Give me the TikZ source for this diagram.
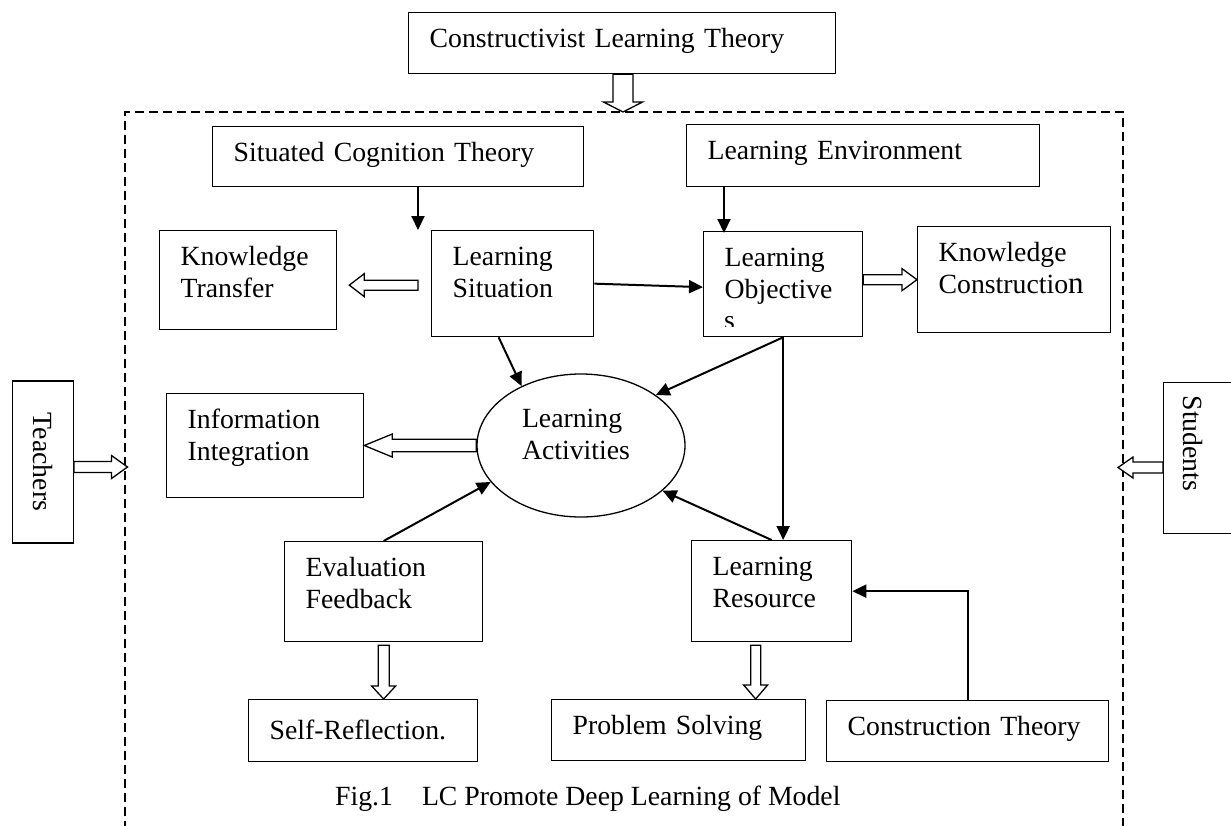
\documentclass[tikz,border=0pt]{standalone}
\usepackage{fontspec}
\setmainfont{Liberation Serif}
\usepackage{xcolor}
\usepackage{tikz}
\usetikzlibrary{arrows.meta,positioning,calc,shapes.geometric}
\definecolor{Ink}{HTML}{000000}

% outlined block arrow: start, tip, half shaft, half head, head length
\newcommand\blockarrow[5]{%
  \draw[hollow] ($(#1)!#3!90:(#2)$) -- ($($(#2)!#5!(#1)$)!#3!-90:(#1)$) -- ($($(#2)!#5!(#1)$)!#4!-90:(#1)$) -- (#2)
    -- ($($(#2)!#5!(#1)$)!#4!90:(#1)$) -- ($($(#2)!#5!(#1)$)!#3!90:(#1)$) -- ($(#1)!#3!-90:(#2)$) -- cycle;}

\begin{document}
\begin{tikzpicture}[x=1pt,y=-1pt,>={Triangle[length=14pt,width=13pt]}]
\tikzset{txt/.style={text=Ink,font=\fontsize{27.75}{32}\selectfont}, box/.style={txt,draw=Ink,line width=1.3pt,anchor=north west,inner xsep=21pt,inner ysep=0pt,align=left,text height=34.5pt}, arrow/.style={->,line width=2pt,Ink}, hollow/.style={draw=Ink,line width=1.3pt,fill=white,line join=miter}, frame/.style={draw=Ink,line width=1.2pt,dash pattern=on 9pt off 5pt}}
\useasboundingbox (0,0) rectangle (1231,825);
\draw[frame] (125,830) |- (1123,112) -- (1123,830);
\node[box,text width=385,text depth=26.5] (clt) at (408,12) {Constructivist Learning Theory};
\node[box,text width=329,text depth=25.5] (sct) at (212,126) {Situated Cognition Theory};
\node[box,text width=311,text depth=27.5] (env) at (686,124) {Learning Environment};
\node[box,text width=135,text depth=64.5] (ktr) at (159,230) {Knowledge\\Transfer};
\node[box,text width=120,text depth=71.5] (sit) at (431,230) {Learning\\Situation};
\node[box,text width=117,text depth=70.5] (obj) at (703,231) {Learning\\Objective};
\node[box,text width=151,text depth=71.5] (kco) at (917,226) {Knowledge\\Constructio{\fontsize{31}{32}\selectfont n}};
\node[ellipse,draw=Ink,line width=1.3pt,minimum width=208,minimum height=143,inner sep=0pt,align=left,text width=118,text height=20,text depth=56,txt] (act) at (581,445.5) {Learning\\Activities};
\node[box,text width=155,text depth=69.5] (inf) at (166,393) {Information\\Integration};
\node[box,text width=156,text depth=65.5] (eva) at (284,541) {Evaluation\\Feedback};
\node[box,text width=118,text depth=66.5] (res) at (691,540) {Learning\\Resource};
\node[box,text width=187,text height=40,text depth=22] (slf) at (248,699) {Self-Reflection.};
\node[box,text width=212,text depth=26.5] (prb) at (551,699) {Problem Solving};
\node[box,text width=240,text depth=26.5] (cth) at (826,700) {Construction Theory};
\node[txt,draw=Ink,line width=1.3pt,rotate=-90,minimum width=162,minimum height=60.6,inner sep=0pt] (tea) at (43,462) {Teachers};
\node[txt,draw=Ink,line width=1.3pt,rotate=-90,anchor=south west,inner xsep=13pt,inner ysep=0pt,align=left,text width=125,text height=57,text depth=20] (stu) at (1163,382) {Students};
\node[txt,anchor=base west,inner sep=0pt] (cap) at (335,805) {Fig.1\hspace{29pt}LC Promote Deep Learning of Model};
% last letter of the objectives box runs past its lower margin
\begin{scope}
\clip (obj.north west) rectangle ($(obj.south east)+(0,-11)$);
\node[txt,anchor=base west,inner sep=0pt] (objs) at ($(obj.north west)+(21,98.5)$) {s};
\end{scope}
\coordinate (ctop) at (623,112);
\coordinate (lf) at (127.5,467);
\coordinate (rf) at (1118,467.5);
\coordinate (sitin) at ($(sit.north west)+(-13,0)$);
\coordinate (objin) at ($(obj.north west)+(21,2)$);
\coordinate (sitout) at ($(sit.west)+(-13,1.5)$);
\coordinate (ktrin) at ($(ktr.east |- sitout)+(12,0)$);
\coordinate (evaout) at ($(eva.south)+(0,3)$);
\coordinate (resout) at ($(res.south)+(-16,3)$);
\blockarrow{clt.south -| ctop}{ctop}{10pt}{19.5pt}{10pt}
\blockarrow{sitout}{ktrin}{5pt}{11.5pt}{15pt}
\blockarrow{obj.east |- kco.west}{kco.west}{5pt}{11pt}{15pt}
\blockarrow{act.west}{inf.east |- act.west}{6.3pt}{11.5pt}{28pt}
\blockarrow{tea.north |- lf}{lf}{5.5pt}{11.5pt}{16pt}
\blockarrow{stu.south |- rf}{rf}{5.5pt}{10.5pt}{15pt}
\blockarrow{evaout}{evaout |- slf.north}{5.5pt}{12pt}{13pt}
\blockarrow{resout}{resout |- prb.north}{5pt}{12pt}{14pt}
\draw[arrow] (sitin |- sct.south) -- (sitin);
\draw[arrow] (objin |- env.south) -- (objin);
\draw[arrow] (sit.east) -- ([yshift=-3pt]obj.west);
\draw[arrow] ([xshift=-14pt]sit.south) -- (act.135);
\draw[arrow] (obj.south) -- (act.34);
\draw[arrow] (obj.south) -- (obj.south |- res.north);
\draw[arrow] (res.north) -- (act.331);
\draw[arrow] (eva.north) -- (act.202);
\draw[arrow] (cth.north) |- (res.east);
\end{tikzpicture}
\end{document}
